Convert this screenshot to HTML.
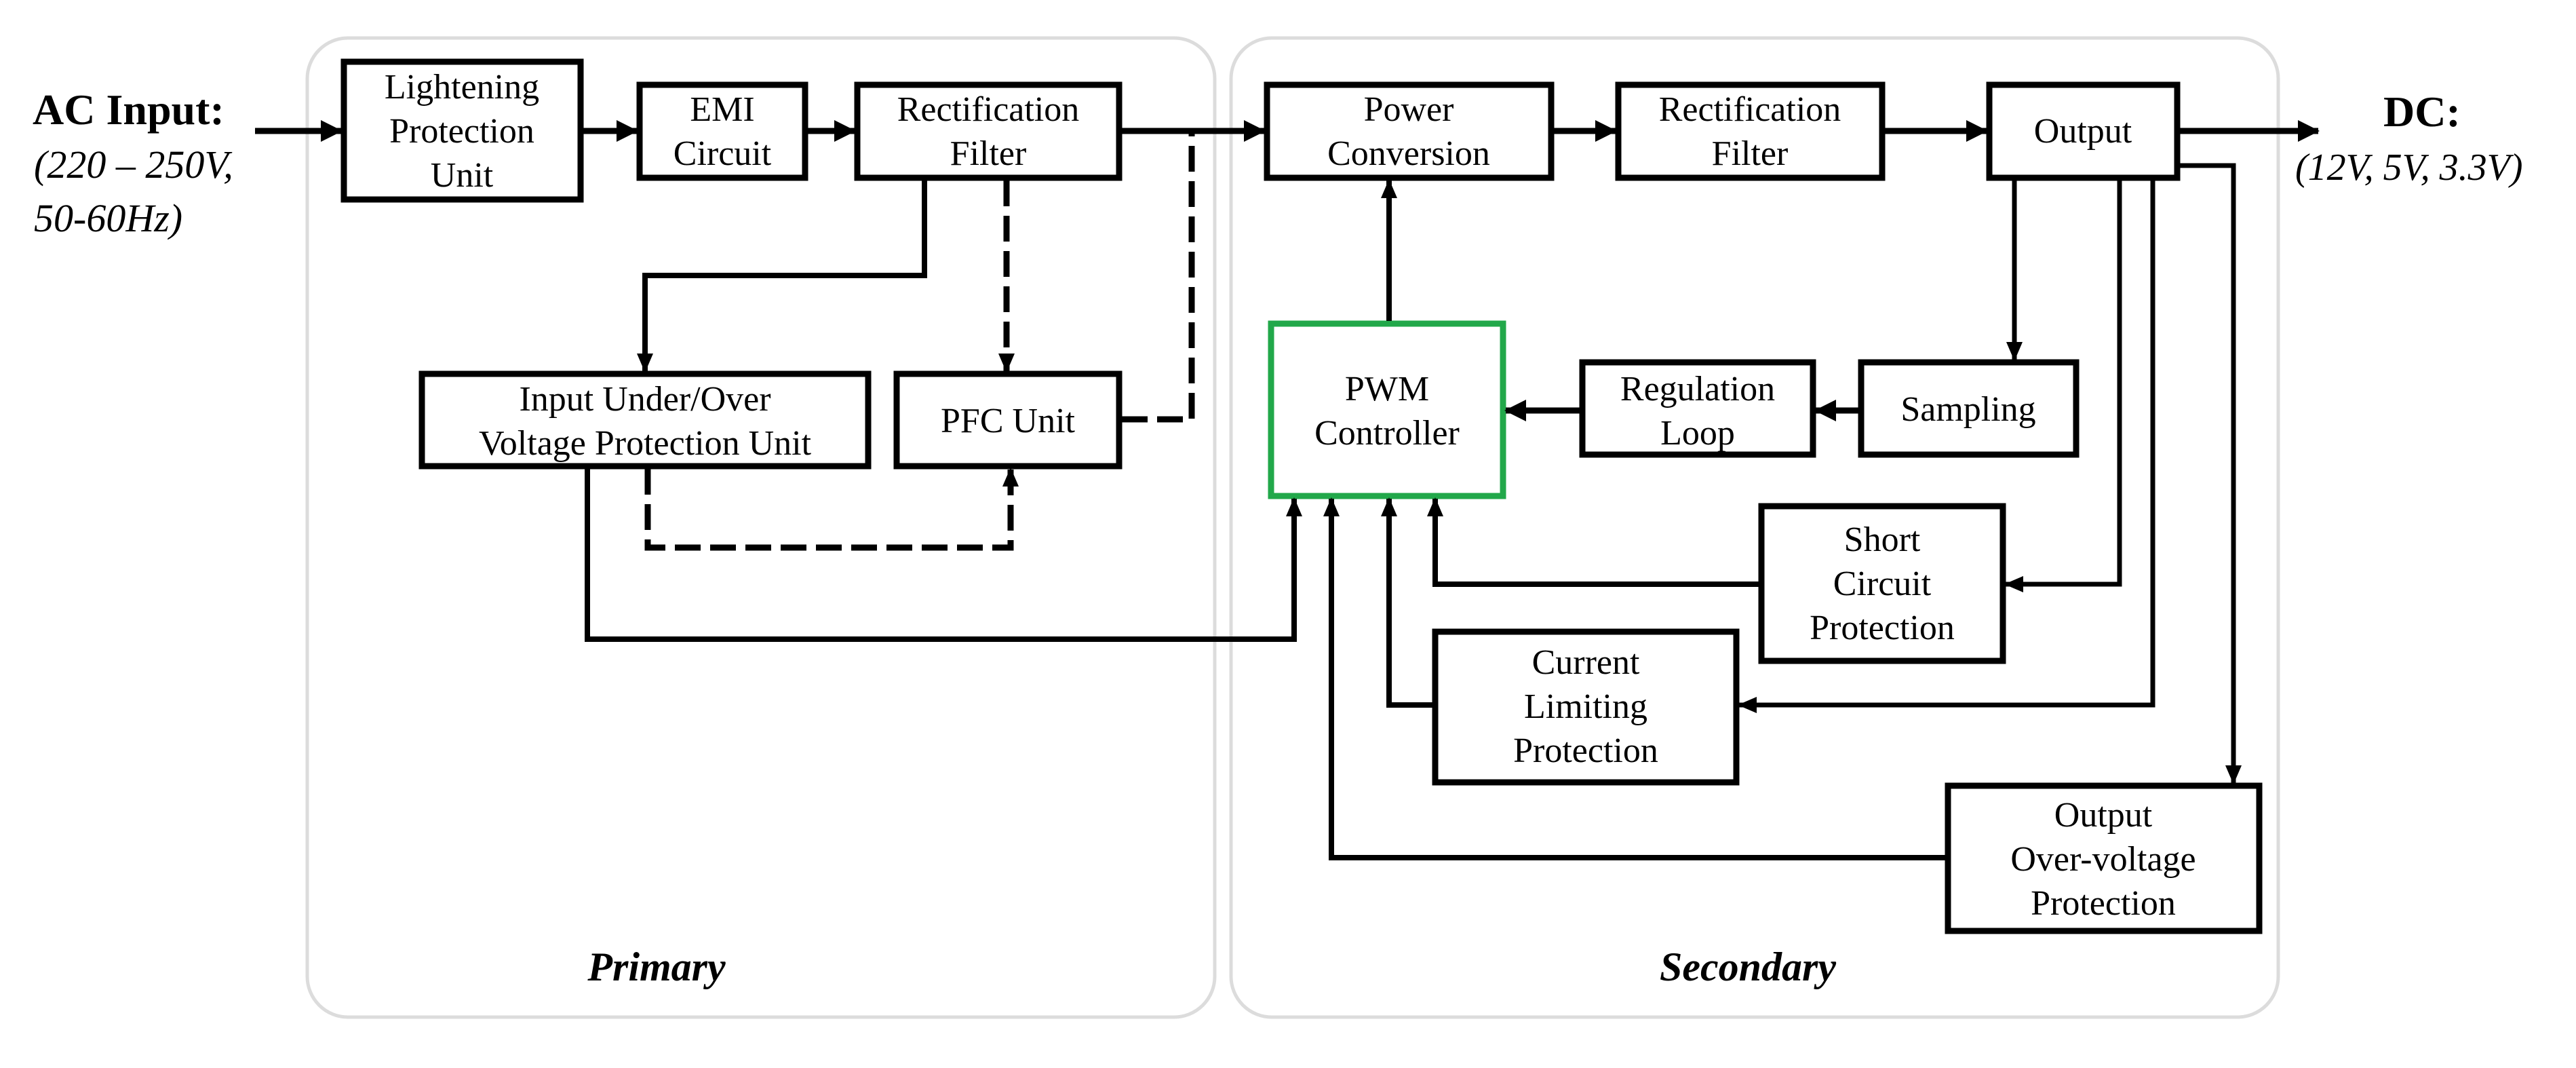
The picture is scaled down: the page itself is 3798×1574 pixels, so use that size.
<!DOCTYPE html>
<html><head><meta charset="utf-8"><style>
html,body{margin:0;padding:0;background:#fff;}
svg{display:block;}
text{font-family:"Liberation Serif",serif;fill:#000;}
.b{font-size:52px;text-anchor:middle;}
</style></head><body>
<svg width="3798" height="1574" viewBox="0 0 3798 1574" xmlns="http://www.w3.org/2000/svg">
<defs>
<marker id="a" markerUnits="userSpaceOnUse" markerWidth="34" markerHeight="34" refX="30" refY="16" orient="auto"><path d="M0,0 L32,16 L0,32 z" fill="#000"/></marker>
<marker id="s" markerUnits="userSpaceOnUse" markerWidth="30" markerHeight="26" refX="26" refY="12" orient="auto"><path d="M0,0 L28,12 L0,24 z" fill="#000"/></marker>
</defs>
<!-- containers -->
<rect x="453" y="56" width="1338" height="1443" rx="60" fill="none" stroke="#dcdcdc" stroke-width="5"/>
<rect x="1815" y="56" width="1544" height="1443" rx="60" fill="none" stroke="#dcdcdc" stroke-width="5"/>

<g fill="none" stroke="#000" stroke-width="9">
<rect x="507" y="91" width="349" height="203"/>
<rect x="943" y="125" width="244" height="137"/>
<rect x="1264" y="125" width="386" height="137"/>
<rect x="1868" y="125" width="419" height="137"/>
<rect x="2386" y="125" width="389" height="137"/>
<rect x="2933" y="125" width="277" height="137"/>
<rect x="622" y="551" width="658" height="136"/>
<rect x="1322" y="551" width="328" height="136"/>
<rect x="2333" y="534" width="340" height="136"/>
<rect x="2744" y="534" width="317" height="136"/>
<rect x="2597" y="746" width="356" height="228"/>
<rect x="2116" y="931" width="444" height="222"/>
<rect x="2872" y="1158" width="459" height="214"/>
</g>
<rect x="1874" y="477" width="342" height="254" fill="none" stroke="#22a84a" stroke-width="9"/>

<g fill="none" stroke="#000" stroke-width="9">
<line x1="376" y1="193" x2="503" y2="193" marker-end="url(#a)"/>
<line x1="860" y1="193" x2="939" y2="193" marker-end="url(#a)"/>
<line x1="1191" y1="193" x2="1260" y2="193" marker-end="url(#a)"/>
<line x1="1654" y1="193" x2="1864" y2="193" marker-end="url(#a)"/>
<line x1="2291" y1="193" x2="2382" y2="193" marker-end="url(#a)"/>
<line x1="2779" y1="193" x2="2929" y2="193" marker-end="url(#a)"/>
<line x1="3214" y1="193" x2="3418" y2="193" marker-end="url(#a)"/>
<polyline points="1363,266 1363,406 951,406 951,547" stroke-width="8" marker-end="url(#s)"/>
<polyline points="866,691 866,942 1908,942 1908,735" stroke-width="8" marker-end="url(#s)"/>
<line x1="2048" y1="473" x2="2048" y2="266" stroke-width="8" marker-end="url(#s)"/>
<line x1="2740" y1="605" x2="2677" y2="605" marker-end="url(#a)"/>
<line x1="2329" y1="605" x2="2220" y2="605" marker-end="url(#a)"/>
<line x1="2970" y1="266" x2="2970" y2="530" stroke-width="7" marker-end="url(#s)"/>
<polyline points="3125,266 3125,861 2957,861" stroke-width="7" marker-end="url(#s)"/>
<polyline points="3174,266 3174,1039 2564,1039" stroke-width="7" marker-end="url(#s)"/>
<polyline points="3214,244 3293,244 3293,1154" stroke-width="7" marker-end="url(#s)"/>
<polyline points="2593,861 2116,861 2116,735" stroke-width="8" marker-end="url(#s)"/>
<polyline points="2112,1039 2048,1039 2048,735" stroke-width="8" marker-end="url(#s)"/>
<polyline points="2868,1264 1963,1264 1963,735" stroke-width="8" marker-end="url(#s)"/>
</g>
<g fill="none" stroke="#000" stroke-width="9" stroke-dasharray="38,14">
<line x1="1484" y1="266" x2="1484" y2="547" marker-end="url(#s)"/>
<polyline points="1654,618 1757,618 1757,193"/>
<polyline points="955,691 955,807 1490,807 1490,691" marker-end="url(#s)"/>
</g>

<text x="48" y="183" style="font-size:64px;font-weight:bold">AC Input:</text>
<text x="50" y="262" style="font-size:58px;font-style:italic">(220 – 250V,</text>
<text x="50" y="341" style="font-size:58px;font-style:italic">50-60Hz)</text>
<text x="3514" y="186" style="font-size:64px;font-weight:bold">DC:</text>
<text x="3384" y="265" style="font-size:56px;font-style:italic">(12V, 5V, 3.3V)</text>

<g class="b">
<text class="b" x="681" y="145">Lightening</text>
<text class="b" x="681" y="210">Protection</text>
<text class="b" x="681" y="275">Unit</text>
<text class="b" x="1065" y="178">EMI</text>
<text class="b" x="1065" y="243">Circuit</text>
<text class="b" x="1457" y="178">Rectification</text>
<text class="b" x="1457" y="243">Filter</text>
<text class="b" x="2077" y="178">Power</text>
<text class="b" x="2077" y="243">Conversion</text>
<text class="b" x="2580" y="178">Rectification</text>
<text class="b" x="2580" y="243">Filter</text>
<text class="b" x="3071" y="210">Output</text>
<text class="b" x="951" y="605">Input Under/Over</text>
<text class="b" x="951" y="670">Voltage Protection Unit</text>
<text class="b" x="1486" y="637">PFC Unit</text>
<text class="b" x="2045" y="590">PWM</text>
<text class="b" x="2045" y="655">Controller</text>
<text class="b" x="2503" y="590">Regulation</text>
<text class="b" x="2503" y="655">Loop</text>
<text class="b" x="2902" y="620">Sampling</text>
<text class="b" x="2775" y="812">Short</text>
<text class="b" x="2775" y="877">Circuit</text>
<text class="b" x="2775" y="942">Protection</text>
<text class="b" x="2338" y="993">Current</text>
<text class="b" x="2338" y="1058">Limiting</text>
<text class="b" x="2338" y="1123">Protection</text>
<text class="b" x="3101" y="1218">Output</text>
<text class="b" x="3101" y="1283">Over-voltage</text>
<text class="b" x="3101" y="1348">Protection</text>
</g>
<text x="968" y="1445" style="font-size:60px;font-style:italic;font-weight:bold;text-anchor:middle">Primary</text>
<text x="2577" y="1445" style="font-size:60px;font-style:italic;font-weight:bold;text-anchor:middle">Secondary</text>
</svg>
</body></html>
